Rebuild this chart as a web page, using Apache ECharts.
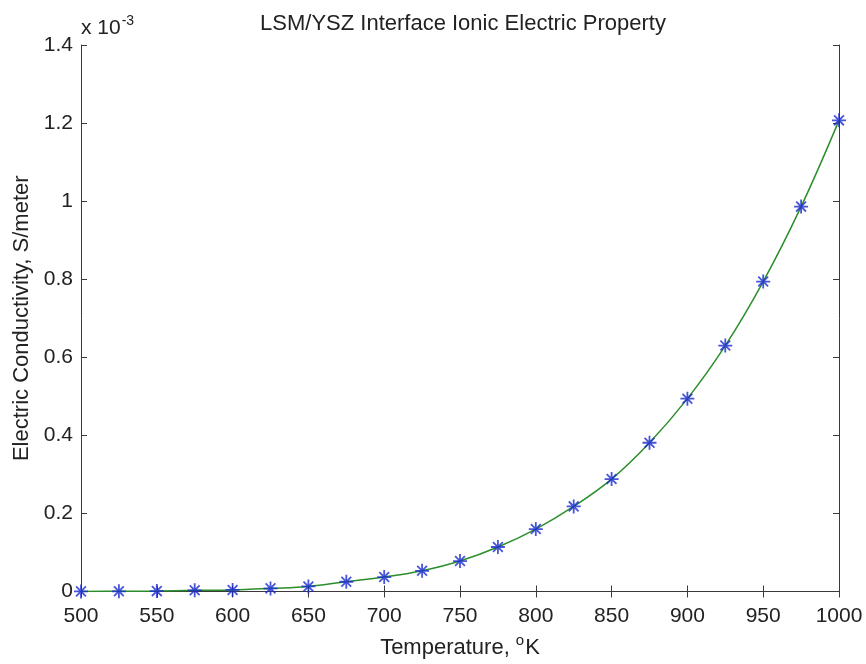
<!DOCTYPE html>
<html>
<head>
<meta charset="utf-8">
<script src="https://cdn.jsdelivr.net/npm/echarts@6/dist/echarts.min.js"></script>
<style>
  html, body { margin: 0; padding: 0; background: #fff; }
  #chart { width: 866px; height: 664px; }
</style>
</head>
<body>
<div id="chart"></div>
<script>
  // temperature (K) and conductivity (x 1e-3 S/m)
  const temperatures = [500, 525, 550, 575, 600, 625, 650, 675, 700, 725, 750, 775, 800, 825, 850, 875, 900, 925, 950, 975, 1000];
  const conductivity = [0.0003, 0.0005, 0.001, 0.003, 0.004, 0.008, 0.013, 0.025, 0.037, 0.053, 0.078, 0.114, 0.160, 0.218, 0.288, 0.381, 0.494, 0.630, 0.794, 0.986, 1.207];
  const xTicks = { min: 500, max: 1000, step: 50 };
  const yTicks = { min: 0, max: 1.4, step: 0.2 };

  const FONT = '"Liberation Sans", Arial, Helvetica, sans-serif';
  const AXIS = '#3a3a3a';
  const TEXT = '#222';
  const points = temperatures.map((t, i) => [t, conductivity[i]]);

  function boxAxis(extra) {
    return Object.assign({
      type: 'value',
      axisLine: { show: true, lineStyle: { color: AXIS, width: 1 } },
      axisTick: { show: true, inside: true, length: 6, lineStyle: { color: AXIS } },
      splitLine: { show: false },
      axisLabel: { show: false },
    }, extra);
  }

  const chart = echarts.init(document.getElementById('chart'), null, { renderer: 'canvas' });
  chart.setOption({
    animation: false,
    backgroundColor: '#fff',
    textStyle: { fontFamily: FONT },
    title: {
      text: 'LSM/YSZ Interface Ionic Electric Property',
      left: 458,
      textAlign: 'center',
      top: 8,
      textStyle: { fontFamily: FONT, fontSize: 22, fontWeight: 'normal', color: TEXT },
    },
    graphic: [{
      type: 'text',
      left: 81,
      top: 14,
      style: {
        text: 'x 10{s|-3}',
        font: '21px ' + FONT,
        fill: TEXT,
        rich: { s: { fontSize: 14, fontFamily: FONT, fill: TEXT, verticalAlign: 'top', padding: [0, 0, 14, 1] } },
      },
    }],
    grid: { left: 81, right: 27, top: 45, bottom: 67 },
    xAxis: [
      boxAxis({
        min: xTicks.min, max: xTicks.max, interval: xTicks.step,
        name: 'Temperature, {sup|o}K',
        nameLocation: 'middle',
        nameGap: 42,
        nameTextStyle: {
          fontFamily: FONT, fontSize: 22, color: TEXT,
          rich: { sup: { fontSize: 15, fontFamily: FONT, color: TEXT, padding: [0, 1, 14, 0] } },
        },
        axisLabel: { show: true, margin: 14, fontSize: 21, fontFamily: FONT, color: TEXT, formatter: (v) => String(v) },
      }),
      boxAxis({ position: 'top', min: xTicks.min, max: xTicks.max, interval: xTicks.step }),
    ],
    yAxis: [
      boxAxis({
        min: yTicks.min, max: yTicks.max, interval: yTicks.step,
        name: 'Electric Conductivity, S/meter',
        nameLocation: 'middle',
        nameGap: 48,
        nameTextStyle: { fontFamily: FONT, fontSize: 22, color: TEXT },
        axisLabel: { show: true, margin: 8, fontSize: 21, fontFamily: FONT, color: TEXT },
      }),
      boxAxis({ position: 'right', min: yTicks.min, max: yTicks.max, interval: yTicks.step }),
    ],
    series: [
      {
        type: 'line',
        data: points,
        smooth: 0.4,
        showSymbol: false,
        lineStyle: { color: '#2a8f2a', width: 1.5 },
        z: 2,
      },
      {
        type: 'scatter',
        data: points,
        symbol: 'path://M0,-6L0,6M-6,0L6,0M-4.2,-4.2L4.2,4.2M-4.2,4.2L4.2,-4.2',
        symbolSize: 14,
        itemStyle: { color: 'rgba(0,0,0,0)', borderColor: '#1a2ad0', borderWidth: 1.8 },
        z: 3,
      },
    ],
  });
</script>
</body>
</html>
